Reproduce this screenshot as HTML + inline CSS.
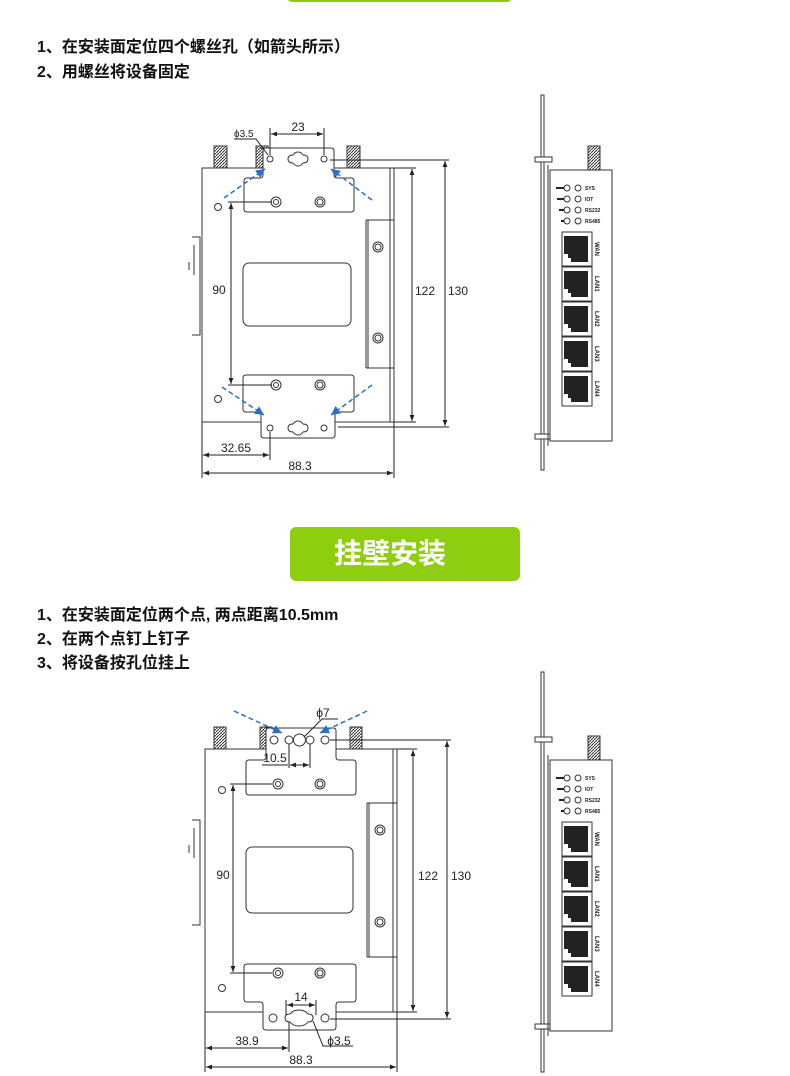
<!DOCTYPE html>
<html><head><meta charset="utf-8"><style>
html,body{margin:0;padding:0;background:#fff;}
body{width:790px;height:1076px;position:relative;overflow:hidden;font-family:"Liberation Sans","Noto Sans CJK SC",sans-serif;}
.t{position:absolute;left:37px;font-size:16px;font-weight:bold;color:#111;line-height:24px;white-space:nowrap;}
.bar{position:absolute;background:#8fcd10;}
svg{position:absolute;left:0;top:0;}
svg text{font-family:"Liberation Sans","DejaVu Sans",sans-serif;fill:#222;}
</style></head><body>
<div class="bar" style="left:287px;top:-8px;width:225px;height:10px;border-radius:0 0 5px 5px;"></div>
<div class="t" style="top:36px;">1、在安装面定位四个螺丝孔（如箭头所示）</div>
<div class="t" style="top:61px;">2、用螺丝将设备固定</div>
<div class="bar" style="left:290px;top:527px;width:230px;height:54px;border-radius:6px;"></div>
<div style="position:absolute;left:290px;top:527px;width:200px;height:54px;line-height:54px;text-align:center;color:#fff;font-size:28px;font-weight:bold;font-family:'Liberation Sans','Noto Sans CJK SC',sans-serif;">挂壁安装</div>
<div class="t" style="top:604px;">1、在安装面定位两个点, 两点距离10.5mm</div>
<div class="t" style="top:628px;">2、在两个点钉上钉子</div>
<div class="t" style="top:652px;">3、将设备按孔位挂上</div>

<svg width="790" height="1076" viewBox="0 0 790 1076">
<defs>
<marker id="a" viewBox="0 0 10 10" refX="10" refY="5" markerWidth="6" markerHeight="6" orient="auto-start-reverse"><path d="M0,1 L10,5 L0,9z" fill="#222"/></marker>
<marker id="b" viewBox="0 0 10 10" refX="10" refY="5" markerWidth="6" markerHeight="6" orient="auto"><path d="M0,0 L10,5 L0,10z" fill="#2a6fc0"/></marker>
<pattern id="th" width="3" height="3" patternUnits="userSpaceOnUse"><rect width="3" height="3" fill="#fff"/><line x1="0" y1="3" x2="3" y2="0" stroke="#333" stroke-width="1"/></pattern>
</defs>

<!-- ===== DRAWING 1 ===== -->
<g fill="none" stroke="#333" stroke-width="1">
<rect x="214" y="146" width="13" height="22" fill="url(#th)"/>
<rect x="256" y="146" width="12" height="22" fill="url(#th)"/>
<rect x="347" y="146" width="13" height="22" fill="url(#th)"/>
<rect x="202" y="168" width="192" height="254" fill="#fff"/>
<line x1="390" y1="168" x2="390" y2="422"/>
<path d="M192,237 h8 v98 h-8 M194,245 v30 M189,262 v8"/>
<rect x="243" y="263" width="108" height="63" rx="6"/>
<path d="M366,220 h28 M366,368 h28 M368,220 v148 M366,220 v148"/>
<circle cx="378" cy="247" r="5"/><circle cx="378" cy="247" r="3"/>
<circle cx="378" cy="338" r="5"/><circle cx="378" cy="338" r="3"/>
<circle cx="218" cy="207" r="3.5"/><circle cx="218" cy="399" r="3.5"/>
<path d="M260,148 h71 q3,0 3,3 v24 q0,3 3,3 h14 q3,0 3,3 v28 q0,3 -3,3 h-104 q-3,0 -3,-3 v-28 q0,-3 3,-3 h13 q3,0 3,-3 v-24 q0,-3 3,-3z" fill="#fff"/>
<path d="M246,375 h105 q3,0 3,3 v31 q0,3 -3,3 h-13 q-3,0 -3,3 v20 q0,3 -3,3 h-68 q-3,0 -3,-3 v-20 q0,-3 -3,-3 h-12 q-3,0 -3,-3 v-31 q0,-3 3,-3z" fill="#fff"/>
<circle cx="276" cy="202" r="5"/><circle cx="276" cy="202" r="2.5"/>
<circle cx="320" cy="202" r="5"/><circle cx="320" cy="202" r="3"/>
<circle cx="276" cy="385" r="5"/><circle cx="276" cy="385" r="2.5"/>
<circle cx="320" cy="385" r="5"/><circle cx="320" cy="385" r="3"/>
<circle cx="270" cy="159" r="3"/><circle cx="324" cy="159" r="3"/>
<circle cx="270" cy="428" r="3"/><circle cx="324" cy="428" r="3"/>
<path d="M288,159 q0,-4 5,-4 q2,-3 5,-3 q3,0 5,3 q5,0 5,4 q0,4 -5,4 q-2,3 -5,3 q-3,0 -5,-3 q-5,0 -5,-4z"/>
<path d="M288,428 q0,-4 5,-4 q2,-3 5,-3 q3,0 5,3 q5,0 5,4 q0,4 -5,4 q-2,3 -5,3 q-3,0 -5,-3 q-5,0 -5,-4z"/>
</g>
<g fill="none" stroke="#222" stroke-width="1">
<line x1="228" y1="202" x2="272" y2="202"/><line x1="228" y1="385" x2="272" y2="385"/>
<line x1="231" y1="203" x2="231" y2="384" marker-start="url(#a)" marker-end="url(#a)"/>
<line x1="270" y1="128" x2="270" y2="155"/><line x1="324" y1="128" x2="324" y2="155"/>
<line x1="271" y1="134" x2="323" y2="134" marker-start="url(#a)" marker-end="url(#a)"/>
<path d="M234,139 h22 l12,16"/>
<line x1="394" y1="168" x2="416" y2="168"/><line x1="394" y1="422" x2="416" y2="422"/>
<line x1="412" y1="169" x2="412" y2="421" marker-start="url(#a)" marker-end="url(#a)"/>
<line x1="330" y1="160" x2="449" y2="160"/><line x1="338" y1="427" x2="449" y2="427"/>
<line x1="445" y1="161" x2="445" y2="426" marker-start="url(#a)" marker-end="url(#a)"/>
<line x1="202" y1="422" x2="202" y2="478"/><line x1="394" y1="422" x2="394" y2="478"/><line x1="270" y1="432" x2="270" y2="460"/>
<line x1="203" y1="455" x2="269" y2="455" marker-start="url(#a)" marker-end="url(#a)"/>
<line x1="203" y1="473" x2="393" y2="473" marker-start="url(#a)" marker-end="url(#a)"/>
</g>
<g stroke="#2a6fc0" stroke-width="1.5" stroke-dasharray="5,3" fill="none">
<line x1="224" y1="198" x2="265" y2="169" marker-end="url(#b)"/>
<line x1="372" y1="200" x2="331" y2="169" marker-end="url(#b)"/>
<line x1="222" y1="387" x2="264" y2="415" marker-end="url(#b)"/>
<line x1="372" y1="385" x2="331" y2="415" marker-end="url(#b)"/>
</g>
<g font-size="12">
<text x="234" y="137" font-size="10">ϕ3.5</text>
<text x="298" y="131" text-anchor="middle">23</text>
<text x="219" y="294" text-anchor="middle">90</text>
<text x="425" y="295" text-anchor="middle">122</text>
<text x="458" y="295" text-anchor="middle">130</text>
<text x="236" y="452" text-anchor="middle">32.65</text>
<text x="300" y="470" text-anchor="middle">88.3</text>
</g>

<!-- ===== DRAWING 2 ===== -->
<g fill="none" stroke="#333" stroke-width="1">
<rect x="214" y="727" width="12" height="22" fill="url(#th)"/>
<rect x="260" y="727" width="12" height="22" fill="url(#th)"/>
<rect x="350" y="727" width="12" height="22" fill="url(#th)"/>
<rect x="205" y="749" width="192" height="263" fill="#fff"/>
<line x1="393" y1="749" x2="393" y2="1012"/>
<path d="M192,820 h8 v105 h-8 M194,828 v30 M189,845 v8"/>
<rect x="246" y="847" width="107" height="66" rx="6"/>
<path d="M367,803 h30 M367,957 h30 M369,803 v154 M367,803 v154"/>
<circle cx="380" cy="830" r="5"/><circle cx="380" cy="830" r="3"/>
<circle cx="380" cy="922" r="5"/><circle cx="380" cy="922" r="3"/>
<circle cx="222" cy="790" r="3.5"/><circle cx="222" cy="988" r="3.5"/>
<path d="M266,728 h67 q3,0 3,3 v26 q0,3 3,3 h14 q3,0 3,3 v29 q0,3 -3,3 h-104 q-3,0 -3,-3 v-29 q0,-3 3,-3 h14 q3,0 3,-3 v-26 q0,-3 3,-3z" fill="#fff"/>
<path d="M248,964 h105 q3,0 3,3 v32 q0,3 -3,3 h-14 q-3,0 -3,3 v22 q0,3 -3,3 h-67 q-3,0 -3,-3 v-22 q0,-3 -3,-3 h-13 q-3,0 -3,-3 v-32 q0,-3 3,-3z" fill="#fff"/>
<circle cx="278" cy="784" r="5"/><circle cx="278" cy="784" r="2.5"/>
<circle cx="320" cy="784" r="5"/><circle cx="320" cy="784" r="3"/>
<circle cx="278" cy="973" r="5"/><circle cx="278" cy="973" r="2.5"/>
<circle cx="320" cy="973" r="5"/><circle cx="320" cy="973" r="3"/>
<circle cx="274" cy="740" r="4"/><circle cx="325" cy="740" r="4"/>
<circle cx="289" cy="740" r="4"/><circle cx="310" cy="740" r="4"/>
<circle cx="299.5" cy="740" r="6"/>
<circle cx="273" cy="1018" r="4"/><circle cx="325" cy="1018" r="4"/>
<path d="M285,1018 q0,-4 5,-4 q3,-4 9,-4 q6,0 9,4 q5,0 5,4 q0,4 -5,4 q-3,4 -9,4 q-6,0 -9,-4 q-5,0 -5,-4z"/>
</g>
<g fill="none" stroke="#222" stroke-width="1">
<line x1="230" y1="784" x2="272" y2="784"/><line x1="230" y1="973" x2="272" y2="973"/>
<line x1="233" y1="785" x2="233" y2="972" marker-start="url(#a)" marker-end="url(#a)"/>
<line x1="289" y1="744" x2="289" y2="768"/><line x1="310" y1="744" x2="310" y2="768"/>
<line x1="262" y1="765" x2="288" y2="765"/>
<line x1="290" y1="765" x2="309" y2="765" marker-start="url(#a)" marker-end="url(#a)"/>
<path d="M338,719 h-16 l-18,18"/>
<line x1="397" y1="749" x2="417" y2="749"/><line x1="397" y1="1012" x2="417" y2="1012"/>
<line x1="413" y1="750" x2="413" y2="1011" marker-start="url(#a)" marker-end="url(#a)"/>
<line x1="330" y1="740" x2="451" y2="740"/><line x1="330" y1="1019" x2="451" y2="1019"/>
<line x1="447" y1="741" x2="447" y2="1018" marker-start="url(#a)" marker-end="url(#a)"/>
<line x1="286" y1="1000" x2="286" y2="1015"/><line x1="316" y1="1000" x2="316" y2="1015"/>
<line x1="287" y1="1005" x2="315" y2="1005" marker-start="url(#a)" marker-end="url(#a)"/>
<path d="M313,1021 l10,25 h30"/>
<line x1="205" y1="1012" x2="205" y2="1072"/><line x1="397" y1="1012" x2="397" y2="1072"/><line x1="289" y1="1022" x2="289" y2="1052"/>
<line x1="206" y1="1048" x2="288" y2="1048" marker-start="url(#a)" marker-end="url(#a)"/>
<line x1="206" y1="1067" x2="396" y2="1067" marker-start="url(#a)" marker-end="url(#a)"/>
</g>
<g stroke="#2a6fc0" stroke-width="1.5" stroke-dasharray="5,3" fill="none">
<line x1="234" y1="711" x2="282" y2="733" marker-end="url(#b)"/>
<line x1="367" y1="711" x2="320" y2="733" marker-end="url(#b)"/>
</g>
<g font-size="12">
<text x="323" y="717" text-anchor="middle">ϕ7</text>
<text x="275" y="762" text-anchor="middle">10.5</text>
<text x="223" y="879" text-anchor="middle">90</text>
<text x="428" y="880" text-anchor="middle">122</text>
<text x="461" y="880" text-anchor="middle">130</text>
<text x="301" y="1001" text-anchor="middle">14</text>
<text x="339" y="1045" text-anchor="middle">ϕ3.5</text>
<text x="247" y="1045" text-anchor="middle">38.9</text>
<text x="301" y="1064" text-anchor="middle">88.3</text>
</g>

<!-- ===== SIDE VIEW 1 ===== -->
<g>
<g fill="none" stroke="#333" stroke-width="1">
<rect x="541" y="95" width="3" height="375" fill="#fff"/>
<rect x="535" y="157" width="17" height="5" fill="#fff"/>
<rect x="535" y="434" width="17" height="5" fill="#fff"/>
<rect x="588" y="146" width="12" height="24" fill="url(#th)"/>
<rect x="550" y="170" width="62" height="271" fill="#fff"/>
<line x1="548" y1="165" x2="548" y2="446"/>
<circle cx="567" cy="188" r="3"/><circle cx="578" cy="188" r="3"/>
<circle cx="567" cy="199" r="3"/><circle cx="578" cy="199" r="3"/>
<circle cx="567" cy="210" r="3"/><circle cx="578" cy="210" r="3"/>
<circle cx="567" cy="221" r="3"/><circle cx="578" cy="221" r="3"/>
</g>
<g stroke="#222" stroke-width="2"><line x1="556" y1="188" x2="564" y2="188"/><line x1="557" y1="199" x2="564" y2="199"/><line x1="559" y1="210" x2="564" y2="210"/><line x1="561" y1="221" x2="564" y2="221"/></g>
<g font-size="5" font-weight="bold"><text x="585" y="190">SYS</text><text x="585" y="201">IOT</text><text x="585" y="212">RS232</text><text x="585" y="223">RS485</text></g>
<g fill="none" stroke="#333" stroke-width="1">
<rect x="562" y="232" width="30" height="34"/><rect x="562" y="267" width="30" height="34"/><rect x="562" y="302" width="30" height="34"/><rect x="562" y="337" width="30" height="34"/><rect x="562" y="372" width="30" height="34"/>
</g>
<g fill="#222">
<path d="M564,236 h24 v26 h-17 v-4 h-3 v-4 h-4z"/><path d="M564,271 h24 v26 h-17 v-4 h-3 v-4 h-4z"/><path d="M564,306 h24 v26 h-17 v-4 h-3 v-4 h-4z"/><path d="M564,341 h24 v26 h-17 v-4 h-3 v-4 h-4z"/><path d="M564,376 h24 v26 h-17 v-4 h-3 v-4 h-4z"/>
</g>
<g font-size="6" font-weight="bold">
<text transform="translate(595,242) rotate(90)">WAN</text><text transform="translate(595,276) rotate(90)">LAN1</text><text transform="translate(595,311) rotate(90)">LAN2</text><text transform="translate(595,346) rotate(90)">LAN3</text><text transform="translate(595,381) rotate(90)">LAN4</text>
</g>
</g>

<!-- ===== SIDE VIEW 2 ===== -->
<g transform="translate(0,590)">
<g fill="none" stroke="#333" stroke-width="1">
<rect x="541" y="82" width="3" height="400" fill="#fff"/>
<rect x="535" y="147" width="17" height="5" fill="#fff"/>
<rect x="535" y="434" width="17" height="5" fill="#fff"/>
<rect x="588" y="146" width="12" height="24" fill="url(#th)"/>
<rect x="550" y="170" width="62" height="271" fill="#fff"/>
<line x1="548" y1="165" x2="548" y2="446"/>
<circle cx="567" cy="188" r="3"/><circle cx="578" cy="188" r="3"/>
<circle cx="567" cy="199" r="3"/><circle cx="578" cy="199" r="3"/>
<circle cx="567" cy="210" r="3"/><circle cx="578" cy="210" r="3"/>
<circle cx="567" cy="221" r="3"/><circle cx="578" cy="221" r="3"/>
</g>
<g stroke="#222" stroke-width="2"><line x1="556" y1="188" x2="564" y2="188"/><line x1="557" y1="199" x2="564" y2="199"/><line x1="559" y1="210" x2="564" y2="210"/><line x1="561" y1="221" x2="564" y2="221"/></g>
<g font-size="5" font-weight="bold"><text x="585" y="190">SYS</text><text x="585" y="201">IOT</text><text x="585" y="212">RS232</text><text x="585" y="223">RS485</text></g>
<g fill="none" stroke="#333" stroke-width="1">
<rect x="562" y="232" width="30" height="34"/><rect x="562" y="267" width="30" height="34"/><rect x="562" y="302" width="30" height="34"/><rect x="562" y="337" width="30" height="34"/><rect x="562" y="372" width="30" height="34"/>
</g>
<g fill="#222">
<path d="M564,236 h24 v26 h-17 v-4 h-3 v-4 h-4z"/><path d="M564,271 h24 v26 h-17 v-4 h-3 v-4 h-4z"/><path d="M564,306 h24 v26 h-17 v-4 h-3 v-4 h-4z"/><path d="M564,341 h24 v26 h-17 v-4 h-3 v-4 h-4z"/><path d="M564,376 h24 v26 h-17 v-4 h-3 v-4 h-4z"/>
</g>
<g font-size="6" font-weight="bold">
<text transform="translate(595,242) rotate(90)">WAN</text><text transform="translate(595,276) rotate(90)">LAN1</text><text transform="translate(595,311) rotate(90)">LAN2</text><text transform="translate(595,346) rotate(90)">LAN3</text><text transform="translate(595,381) rotate(90)">LAN4</text>
</g>
</g>
</svg>
</body></html>
